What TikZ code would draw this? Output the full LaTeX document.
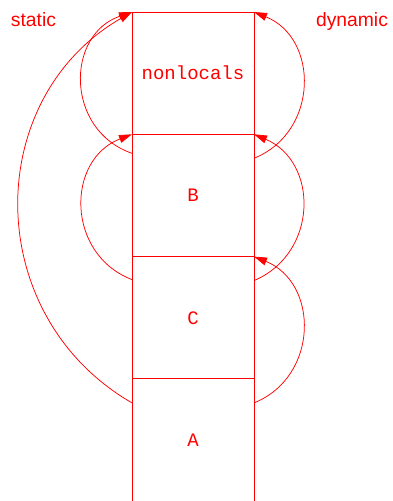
\documentclass[tikz,border=0pt]{standalone}
\usepackage{fontspec}
\setmainfont{Liberation Sans}
\setmonofont{Liberation Mono}
\usetikzlibrary{arrows.meta,calc,positioning}
\begin{document}
\begin{tikzpicture}[x=1pt,y=1pt,
  frame/.style={draw=red, line width=0.9pt, outer sep=0pt, inner sep=0pt,
    minimum width=122pt, minimum height=122.3pt, text=red,
    font=\fontsize{19}{22}\selectfont\ttfamily},
  link/.style={draw=red, line width=0.75pt, -{Triangle[length=13pt,width=8pt]}},
  tag/.style={text=red, anchor=base, inner sep=0pt, font=\fontsize{19.3}{23}\selectfont}]
\useasboundingbox (0,0) rectangle (392,501);

% activation record stack
\node[frame] (N) at (193,427.85) {nonlocals};
\node[frame, below=0pt of N] (B) {B};
\node[frame, below=0pt of B] (C) {C};
\node[frame, draw=none, below=0pt of C] (A) {A};
\draw[red, line width=0.9pt] (A.north west) -- (A.south west)
                             (A.north east) -- (A.south east);

% link origins on the sides of the records
\coordinate (bL) at ($(B.north west)+(0,-19)$);
\coordinate (bR) at ($(B.north east)+(0,-24)$);
\coordinate (cL) at ($(C.north west)+(0,-23)$);
\coordinate (cR) at ($(C.north east)+(0,-24)$);
\coordinate (aL) at ($(A.north west)+(0,-24)$);
\coordinate (aR) at ($(A.north east)+(0,-24)$);

% static links (left)
\draw[link] (bL) to[out=161,in=199,looseness=1.28] (N.north west);
\draw[link] (cL) to[out=159,in=201,looseness=1.25] (B.north west);
\draw[link] (aL) to[out=150,in=210,looseness=1.14] (N.north west);

% dynamic links (right)
\draw[link] (bR) to[out=22,in=-22,looseness=1.23] (N.north east);
\draw[link] (cR) to[out=23,in=-23,looseness=1.23] (B.north east);
\draw[link] (aR) to[out=22,in=-22,looseness=1.23] (C.north east);

\node[tag] (st) at (33.5,474.5) {static};
\node[tag] (dy) at (352,474.5) {dynamic};
\end{tikzpicture}
\end{document}
